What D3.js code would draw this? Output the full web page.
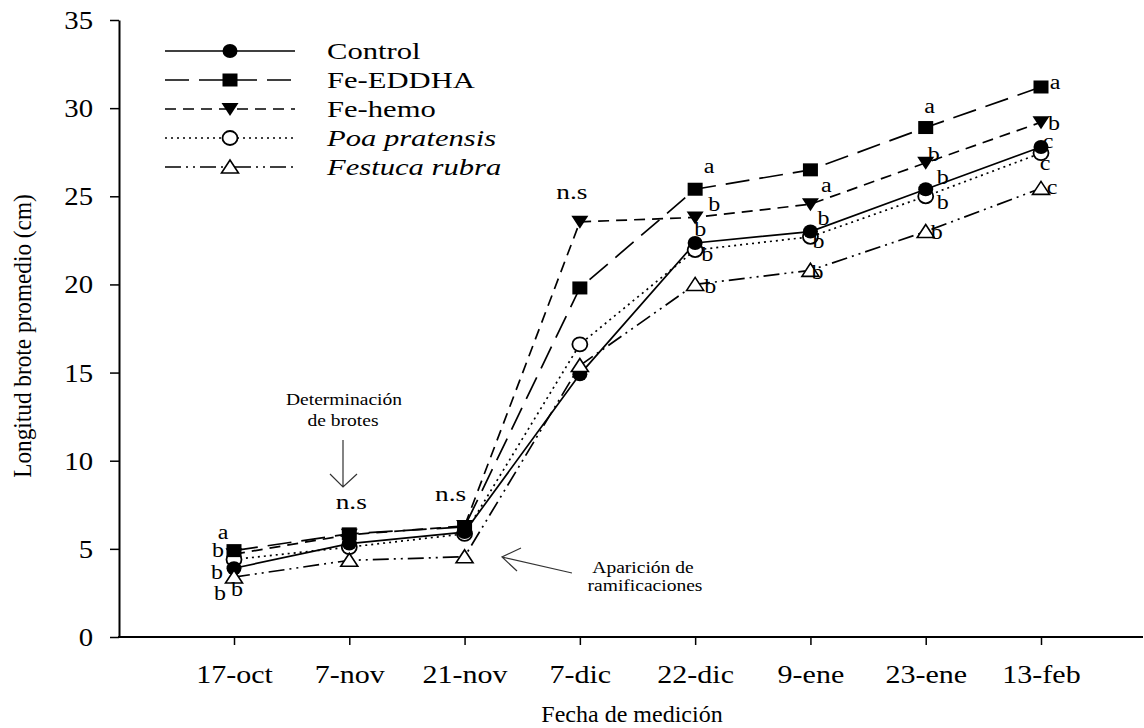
<!DOCTYPE html>
<html>
<head>
<meta charset="utf-8">
<script src="https://cdnjs.cloudflare.com/ajax/libs/d3/7.8.5/d3.min.js"></script>
<style>
  html, body { margin: 0; padding: 0; background: #fff; }
  svg { display: block; }
  text { font-family: "Liberation Serif", "Times New Roman", serif; fill: #000; }
</style>
</head>
<body>
<svg id="chart" width="1144" height="728"></svg>
<script>
// ---------------- DATA ----------------
const dates = ["17-oct", "7-nov", "21-nov", "7-dic", "22-dic", "9-ene", "23-ene", "13-feb"];
const yTicks = [0, 5, 10, 15, 20, 25, 30, 35];

const seriesNames = ["Control", "Fe-EDDHA", "Fe-hemo", "Poa pratensis", "Festuca rubra"];
const control  = [3.9, 5.3, 5.95, 14.9, 22.35, 23.0, 25.4, 27.8];
const feEDDHA  = [4.9, 5.85, 6.25, 19.8, 25.4, 26.5, 28.9, 31.2];
const feHemo   = [4.7, 5.8, 6.3, 23.55, 23.8, 24.55, 26.9, 29.2];
const poa      = [4.4, 5.1, 5.85, 16.6, 21.95, 22.7, 25.0, 27.45];
const festuca  = [3.4, 4.35, 4.55, 15.4, 20.0, 20.8, 23.0, 25.45];

const lettersControl = ["b", "", "", "", "b", "b", "b", "c"];
const lettersEDDHA   = ["a", "", "", "", "a", "", "a", "a"];
const lettersHemo    = ["b", "", "", "", "b", "a", "b", "b"];
const lettersPoa     = ["b", "", "", "", "b", "b", "b", "c"];
const lettersFestuca = ["b", "", "", "", "b", "b", "b", "c"];
const nsLabels = ["", "n.s", "n.s", "n.s", "", "", "", ""];

const xTitle = "Fecha de medición";
const yTitle = "Longitud brote promedio (cm)";
const note1 = ["Determinación", "de brotes"];
const note2 = ["Aparición de", "ramificaciones"];

// ---------------- LAYOUT / STYLE ----------------
const svg = d3.select("#chart");
const x = d3.scalePoint().domain(dates).range([234, 1041]);
const y = d3.scaleLinear().domain([0, 35]).range([637, 20]);

function stretch(sel, k) {
  sel.each(function () {
    const l = this.getComputedTextLength();
    d3.select(this).attr("textLength", l * k).attr("lengthAdjust", "spacingAndGlyphs");
  });
}

const styles = {
  "Control":       { values: control, letters: lettersControl, dash: null,           marker: "circle",      italic: false,
                     off: [[-17, 11], null, null, null, [5, -7], [13, -7], [17, -5], [7, 1]] },
  "Fe-EDDHA":      { values: feEDDHA, letters: lettersEDDHA,   dash: "24,10",        marker: "square",      italic: false,
                     off: [[-11, -12], null, null, null, [14, -16], [14, -10], [4, -15], [14, 2]] },
  "Fe-hemo":       { values: feHemo,  letters: lettersHemo,    dash: "11,7",         marker: "tri-down",    italic: false,
                     off: [[-16, 3], null, null, null, [19, -6], [16, -12], [8, -2], [13, 8]] },
  "Poa pratensis": { values: poa,     letters: lettersPoa,     dash: "2,4",          marker: "open-circle", italic: true,
                     off: [[-14, 41], null, null, null, [12, 11], [8, 11], [17, 13], [4, 17]] },
  "Festuca rubra": { values: festuca, letters: lettersFestuca, dash: "16,5,2,5,2,5", marker: "open-tri",    italic: true,
                     off: [[3, 19], null, null, null, [15, 9], [7, 9], [11, 7], [11, 6]] }
};
// drawing order (later = on top)
const drawOrder = ["Fe-hemo", "Poa pratensis", "Control", "Fe-EDDHA", "Festuca rubra"];

function drawMarker(g, type, cx, cy) {
  if (type === "circle") {
    g.append("ellipse").attr("cx", cx).attr("cy", cy).attr("rx", 7.5).attr("ry", 7).attr("fill", "#000");
  } else if (type === "open-circle") {
    g.append("ellipse").attr("cx", cx).attr("cy", cy).attr("rx", 7.5).attr("ry", 7)
      .attr("fill", "#fff").attr("stroke", "#000").attr("stroke-width", 1.8);
  } else if (type === "square") {
    g.append("rect").attr("x", cx - 7.5).attr("y", cy - 6.5).attr("width", 15).attr("height", 13).attr("fill", "#000");
  } else if (type === "tri-down") {
    g.append("path").attr("d", `M${cx - 8.5},${cy - 6}L${cx + 8.5},${cy - 6}L${cx},${cy + 7}Z`).attr("fill", "#000");
  } else if (type === "open-tri") {
    g.append("path").attr("d", `M${cx - 8.5},${cy + 6}L${cx + 8.5},${cy + 6}L${cx},${cy - 7}Z`)
      .attr("fill", "#fff").attr("stroke", "#000").attr("stroke-width", 1.6);
  }
}

// ---------------- AXES ----------------
const yAxis = d3.axisLeft(y).tickValues(yTicks).tickSize(9).tickPadding(17).tickSizeOuter(0);
const gy = svg.append("g").attr("transform", "translate(119,0)").call(yAxis);
gy.select(".domain").attr("stroke-width", 2);
gy.selectAll(".tick line").attr("stroke-width", 1.5);
gy.selectAll(".tick text").attr("font-family", "Liberation Serif").attr("font-size", 25).attr("fill", "#000")
  .attr("dy", "0.34em").call(stretch, 1.15);

const xAxis = d3.axisBottom(x).tickSize(8).tickPadding(20).tickSizeOuter(0);
const gx = svg.append("g").attr("transform", "translate(0,637)").call(xAxis);
gx.select(".domain").remove();
gx.selectAll(".tick line").attr("stroke-width", 1.5);
gx.selectAll(".tick text").attr("font-family", "Liberation Serif").attr("font-size", 25).attr("fill", "#000")
  .call(stretch, 1.2);
svg.append("line").attr("x1", 118).attr("x2", 1143).attr("y1", 637).attr("y2", 637)
  .attr("stroke", "#000").attr("stroke-width", 2.2);

svg.append("text").attr("x", 632).attr("y", 722).attr("text-anchor", "middle").attr("font-size", 24)
  .text(xTitle).call(stretch, 1.0);
svg.append("text").attr("transform", "translate(31,336) rotate(-90)").attr("text-anchor", "middle")
  .attr("font-size", 25).text(yTitle).call(stretch, 0.93);

// ---------------- LINES & MARKERS ----------------
const line = d3.line().x((d, i) => x(dates[i])).y(d => y(d));
const plot = svg.append("g");
drawOrder.forEach(n => {
  const s = styles[n];
  plot.append("path").datum(s.values).attr("d", line).attr("fill", "none")
    .attr("stroke", "#000").attr("stroke-width", 1.7)
    .attr("stroke-dasharray", s.dash);
});
drawOrder.forEach(n => {
  const s = styles[n];
  const g = plot.append("g");
  s.values.forEach((v, i) => drawMarker(g, s.marker, x(dates[i]), y(v)));
});

// significance letters
const lg = svg.append("g");
drawOrder.forEach(n => {
  const s = styles[n];
  s.letters.forEach((t, i) => {
    if (!t || !s.off[i]) return;
    lg.append("text").attr("x", x(dates[i]) + s.off[i][0]).attr("y", y(s.values[i]) + s.off[i][1])
      .attr("text-anchor", "middle").attr("font-size", 20).text(t).call(stretch, 1.2);
  });
});
// n.s labels above the highest point
const nsShift = [0, 2, -14, -8, 0, 0, 0, 0];
nsLabels.forEach((t, i) => {
  if (!t) return;
  const top = d3.max(seriesNames, n => styles[n].values[i]);
  lg.append("text").attr("x", x(dates[i]) + nsShift[i])
    .attr("y", y(top) - (i === 3 ? 23 : 25))
    .attr("text-anchor", "middle").attr("font-size", 21).text(t).call(stretch, 1.3);
});

// ---------------- LEGEND ----------------
const leg = svg.append("g");
seriesNames.forEach((n, r) => {
  const s = styles[n];
  const cy = 51 + r * 29;
  leg.append("line").attr("x1", 165).attr("x2", 295).attr("y1", cy).attr("y2", cy)
    .attr("stroke", "#000").attr("stroke-width", 1.7).attr("stroke-dasharray", s.dash);
  drawMarker(leg, s.marker, 230, cy);
  leg.append("text").attr("x", 327).attr("y", cy + 8).attr("font-size", 23)
    .attr("font-style", s.italic ? "italic" : "normal").text(n).call(stretch, 1.33);
});

// ---------------- ANNOTATIONS ----------------
const ann = svg.append("g");
ann.append("text").attr("x", 344).attr("y", 405).attr("text-anchor", "middle").attr("font-size", 16)
  .text(note1[0]).call(stretch, 1.22);
ann.append("text").attr("x", 343).attr("y", 426).attr("text-anchor", "middle").attr("font-size", 16)
  .text(note1[1]).call(stretch, 1.22);
ann.append("path").attr("d", "M343,440L343,487M330,474L343,487L357,474")
  .attr("fill", "none").attr("stroke", "#333").attr("stroke-width", 1.2);

ann.append("text").attr("x", 643).attr("y", 573).attr("text-anchor", "middle").attr("font-size", 16)
  .text(note2[0]).call(stretch, 1.22);
ann.append("text").attr("x", 645).attr("y", 591).attr("text-anchor", "middle").attr("font-size", 16)
  .text(note2[1]).call(stretch, 1.22);
ann.append("path").attr("d", "M572,573L502,557M521,548L502,557L517,571")
  .attr("fill", "none").attr("stroke", "#333").attr("stroke-width", 1.2);
</script>
</body>
</html>
